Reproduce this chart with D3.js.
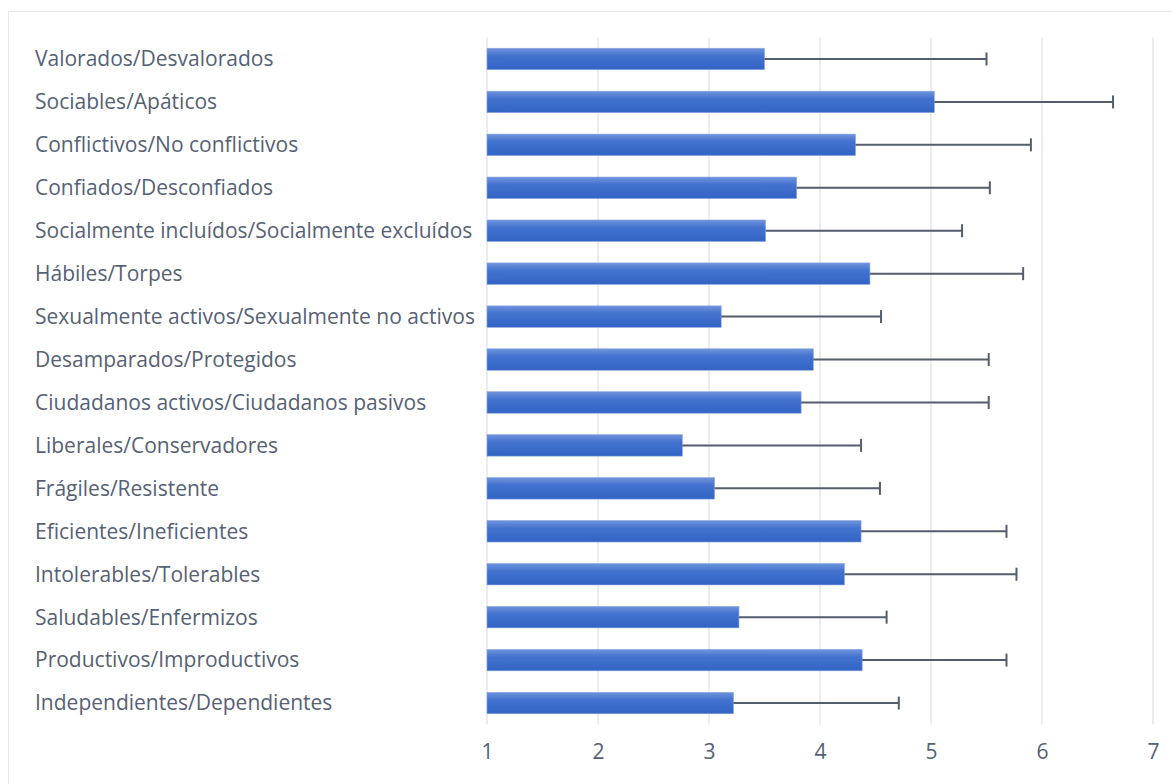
<!DOCTYPE html>
<html><head><meta charset="utf-8">
<script src="https://cdn.jsdelivr.net/npm/d3@7"></script>
<style>body{margin:0;background:#fff;} svg{display:block;}</style>
</head><body>
<svg id="c" width="1172" height="784"></svg>
<script>
const categories = [
  "Valorados/Desvalorados",
  "Sociables/Apáticos",
  "Conflictivos/No conflictivos",
  "Confiados/Desconfiados",
  "Socialmente incluídos/Socialmente excluídos",
  "Hábiles/Torpes",
  "Sexualmente activos/Sexualmente no activos",
  "Desamparados/Protegidos",
  "Ciudadanos activos/Ciudadanos pasivos",
  "Liberales/Conservadores",
  "Frágiles/Resistente",
  "Eficientes/Ineficientes",
  "Intolerables/Tolerables",
  "Saludables/Enfermizos",
  "Productivos/Improductivos",
  "Independientes/Dependientes"
];
const means = [3.50, 5.03, 4.32, 3.79, 3.51, 4.45, 3.11, 3.94, 3.83, 2.76, 3.05, 4.37, 4.22, 3.27, 4.38, 3.22];
const sds   = [2.00, 1.61, 1.58, 1.74, 1.77, 1.38, 1.44, 1.58, 1.69, 1.61, 1.49, 1.31, 1.55, 1.33, 1.30, 1.49];
const xTicks = [1, 2, 3, 4, 5, 6, 7];

(function () {
const svg = d3.select("#c");
const mLeft = 487, mRight = 1153, mTop = 37.5, mBottom = 724.5;
const x = d3.scaleLinear().domain([1, 7]).range([mLeft, mRight]);
const y = d3.scaleBand().domain(categories).range([mTop, mBottom]).paddingInner(0.5).paddingOuter(0.25);

svg.append("rect").attr("x", 8.5).attr("y", 11.5).attr("width", 1180).attr("height", 800)
  .attr("fill", "none").attr("stroke", "#e6e6e6").attr("stroke-width", 1);

const defs = svg.append("defs");
const grad = defs.append("linearGradient").attr("id", "bg").attr("x1", 0).attr("y1", 0).attr("x2", 0).attr("y2", 1);
grad.append("stop").attr("offset", "0%").attr("stop-color", "#6f94dc");
grad.append("stop").attr("offset", "35%").attr("stop-color", "#4472cf");
grad.append("stop").attr("offset", "100%").attr("stop-color", "#3264c4");

svg.append("g").selectAll("line").data(xTicks).join("line")
  .attr("x1", d => x(d)).attr("x2", d => x(d))
  .attr("y1", mTop).attr("y2", mBottom)
  .attr("stroke", "#e3e6ee").attr("stroke-width", 1.5);

svg.append("g").selectAll("rect").data(categories).join("rect")
  .attr("x", x(1)).attr("y", d => y(d))
  .attr("width", (d, i) => x(means[i]) - x(1))
  .attr("height", y.bandwidth())
  .attr("fill", "url(#bg)")
  .attr("stroke", "#8aa6e0").attr("stroke-width", 0.6);

const eb = svg.append("g").attr("stroke", "#555d6d").attr("stroke-width", 2);
categories.forEach((c, i) => {
  const cy = y(c) + y.bandwidth() / 2;
  eb.append("line").attr("x1", x(means[i])).attr("x2", x(means[i] + sds[i])).attr("y1", cy).attr("y2", cy);
  eb.append("line").attr("x1", x(means[i] + sds[i])).attr("x2", x(means[i] + sds[i])).attr("y1", cy - 6.5).attr("y2", cy + 6.5);
});

svg.append("g").selectAll("text").data(categories).join("text")
  .attr("x", 35).attr("y", d => y(d) + y.bandwidth() / 2)
  .attr("dy", "0.35em")
  .attr("font-family", "Open Sans, sans-serif").attr("font-size", 21)
  .attr("fill", "#566174")
  .text(d => d);

const xAxis = d3.axisBottom(x).tickValues(xTicks).tickFormat(d3.format("d")).tickSize(0).tickPadding(0);
const gx = svg.append("g").attr("transform", `translate(0,${mBottom})`).call(xAxis);
gx.select(".domain").remove();
gx.selectAll("text").attr("y", 27.5).attr("dy", "0.35em")
  .attr("font-family", "Open Sans, sans-serif").attr("font-size", 21).attr("fill", "#566174");
})();
</script>
</body></html>
